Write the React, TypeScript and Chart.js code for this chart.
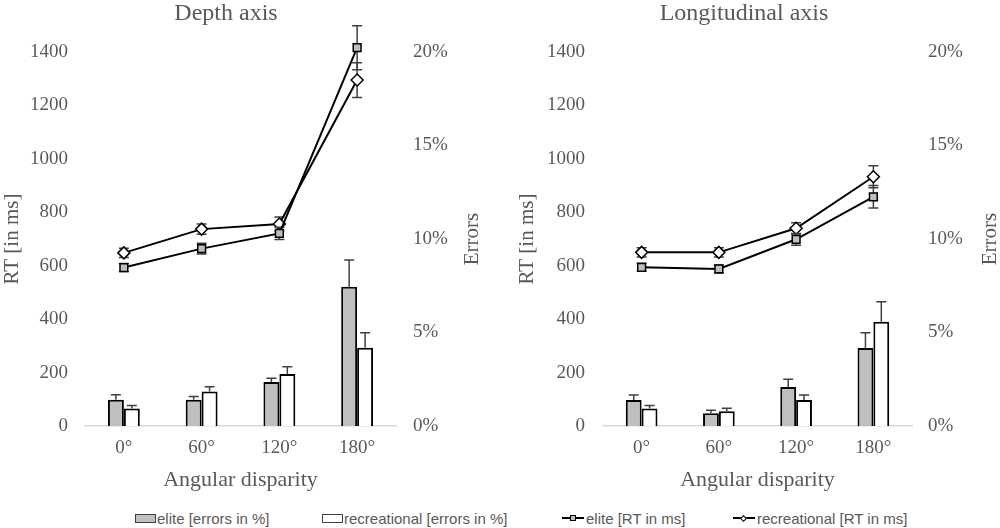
import { useEffect, useRef } from "react";
import { Chart, registerables } from "chart.js";

Chart.register(...registerables);

const serif = "'Liberation Serif', 'Times New Roman', serif";
const sans = "'Liberation Sans', Arial, sans-serif";
const textColor = "#595959";

const angles = ["0°", "60°", "120°", "180°"];

// Depth axis
const depthEliteErr = [1.4, 1.4, 2.35, 7.45];
const depthEliteErrSd = [0.27, 0.18, 0.21, 1.43];
const depthRecErr = [0.93, 1.85, 2.78, 4.19];
const depthRecErrSd = [0.17, 0.25, 0.39, 0.8];
const depthEliteRt = [593, 664, 721, 1416];
const depthEliteRtSd = [15, 20, 23, 82];
const depthRecRt = [648, 737, 756, 1295];
const depthRecRtSd = [17, 19, 26, 65];

// Longitudinal axis
const longEliteErr = [1.39, 0.68, 2.09, 4.17];
const longEliteErrSd = [0.27, 0.16, 0.41, 0.82];
const longRecErr = [0.93, 0.79, 1.39, 5.58];
const longRecErrSd = [0.17, 0.16, 0.27, 1.07];
const longEliteRt = [594, 588, 699, 858];
const longEliteRtSd = [15, 15, 22, 42];
const longRecRt = [650, 650, 740, 933];
const longRecRtSd = [17, 17, 21, 41];

type Panel = {
  title: string;
  titleX: number;
  errorsX: number;
  rtPad: number;
  leftW: number;
  rightW: number;
  rightPad: number;
  leftPad: number;
  eliteErr: number[];
  eliteErrSd: number[];
  recErr: number[];
  recErrSd: number[];
  eliteRt: number[];
  eliteRtSd: number[];
  recRt: number[];
  recRtSd: number[];
};

const depthPanel: Panel = {
  title: "Depth axis",
  titleX: 226,
  errorsX: 472,
  rtPad: 0,
  leftW: 85,
  rightW: 104,
  rightPad: 17,
  leftPad: 17,
  eliteErr: depthEliteErr,
  eliteErrSd: depthEliteErrSd,
  recErr: depthRecErr,
  recErrSd: depthRecErrSd,
  eliteRt: depthEliteRt,
  eliteRtSd: depthEliteRtSd,
  recRt: depthRecRt,
  recRtSd: depthRecRtSd,
};

const longPanel: Panel = {
  title: "Longitudinal axis",
  titleX: 244,
  errorsX: 490,
  rtPad: 15,
  leftW: 103,
  rightW: 88,
  rightPad: 16,
  leftPad: 18,
  eliteErr: longEliteErr,
  eliteErrSd: longEliteErrSd,
  recErr: longRecErr,
  recErrSd: longRecErrSd,
  eliteRt: longEliteRt,
  eliteRtSd: longEliteRtSd,
  recRt: longRecRt,
  recRtSd: longRecRtSd,
};

function drawErrors(chart: any, index: number) {
  const ds = chart.data.datasets[index];
  const errs: number[] | undefined = ds.errors;
  if (!errs) return;
  const meta = chart.getDatasetMeta(index);
  const scale = chart.scales[meta.yAxisID];
  const upOnly = meta.type === "bar";
  const ctx = chart.ctx;
  ctx.save();
  ctx.strokeStyle = "#404040";
  ctx.lineWidth = 1.5;
  meta.data.forEach((el: any, i: number) => {
    const v = ds.data[i];
    const x = el.x;
    const yTop = scale.getPixelForValue(v + errs[i]);
    const yBot = upOnly ? el.y : scale.getPixelForValue(v - errs[i]);
    ctx.beginPath();
    ctx.moveTo(x, yBot);
    ctx.lineTo(x, yTop);
    ctx.moveTo(x - 5, yTop);
    ctx.lineTo(x + 5, yTop);
    if (!upOnly) {
      ctx.moveTo(x - 5, yBot);
      ctx.lineTo(x + 5, yBot);
    }
    ctx.stroke();
  });
  ctx.restore();
}

// bars get their error bars on top, lines get them underneath the markers
const errorBarPlugin = {
  id: "errorBars",
  beforeDatasetDraw(chart: any, args: any) {
    if (chart.getDatasetMeta(args.index).type === "line") drawErrors(chart, args.index);
  },
  afterDatasetDraw(chart: any, args: any) {
    if (chart.getDatasetMeta(args.index).type === "bar") drawErrors(chart, args.index);
  },
};

const panelTextPlugin = {
  id: "panelText",
  afterDraw(chart: any, _args: any, opts: any) {
    const { ctx, chartArea } = chart;
    ctx.save();
    ctx.fillStyle = textColor;
    ctx.textAlign = "center";
    ctx.textBaseline = "middle";
    ctx.font = `24px ${serif}`;
    ctx.fillText(opts.title, opts.titleX, 14);
    ctx.translate(opts.errorsX, (chartArea.top + chartArea.bottom) / 2);
    ctx.rotate(-Math.PI / 2);
    ctx.font = `21px ${serif}`;
    ctx.fillText("Errors", 0, 0);
    ctx.restore();
  },
};

function makeConfig(p: Panel): any {
  const tickFont = { family: serif, size: 19 };
  return {
    type: "bar",
    data: {
      labels: angles,
      datasets: [
        {
          type: "line",
          label: "elite [RT in ms]",
          data: p.eliteRt,
          errors: p.eliteRtSd,
          yAxisID: "y",
          order: 0,
          borderColor: "#000",
          borderWidth: 2,
          tension: 0,
          clip: false,
          pointStyle: "rect",
          pointRadius: 5.5,
          pointBackgroundColor: "#bfbfbf",
          pointBorderColor: "#000",
          pointBorderWidth: 1.5,
        },
        {
          type: "line",
          label: "recreational [RT in ms]",
          data: p.recRt,
          errors: p.recRtSd,
          yAxisID: "y",
          order: 0,
          borderColor: "#000",
          borderWidth: 2,
          tension: 0,
          clip: false,
          pointStyle: "rectRot",
          pointRadius: 6,
          pointBackgroundColor: "#fff",
          pointBorderColor: "#000",
          pointBorderWidth: 1.5,
        },
        {
          type: "bar",
          label: "elite [errors in %]",
          data: p.eliteErr,
          errors: p.eliteErrSd,
          yAxisID: "y1",
          order: 1,
          backgroundColor: "#bfbfbf",
          borderColor: "#000",
          borderWidth: 2,
          barPercentage: 1,
          categoryPercentage: 0.41,
        },
        {
          type: "bar",
          label: "recreational [errors in %]",
          data: p.recErr,
          errors: p.recErrSd,
          yAxisID: "y1",
          order: 1,
          backgroundColor: "#fff",
          borderColor: "#000",
          borderWidth: 2,
          barPercentage: 1,
          categoryPercentage: 0.41,
        },
      ],
    },
    options: {
      responsive: false,
      animation: false,
      layout: { padding: { top: 52, left: 0, right: 0, bottom: 0 } },
      plugins: {
        legend: { display: false },
        tooltip: { enabled: false },
        panelText: { title: p.title, titleX: p.titleX, errorsX: p.errorsX },
      },
      scales: {
        x: {
          grid: { display: false, drawTicks: false },
          border: { display: true, color: "#d9d9d9", width: 1.5 },
          ticks: { padding: 11, color: textColor, font: tickFont },
          title: {
            display: true,
            text: "Angular disparity",
            color: textColor,
            font: { family: serif, size: 22 },
            padding: { top: 0, bottom: 7 },
          },
          afterFit: (s: any) => {
            s.height = 74;
          },
        },
        y: {
          position: "left",
          min: 0,
          max: 1400,
          grid: { display: false, drawTicks: false },
          border: { display: false },
          ticks: {
            stepSize: 200,
            padding: p.leftPad,
            color: textColor,
            font: tickFont,
            callback: (v: number) => String(v),
          },
          title: {
            display: true,
            text: "RT [in ms]",
            color: textColor,
            font: { family: serif, size: 21 },
            padding: { top: p.rtPad, bottom: 0 },
          },
          afterFit: (s: any) => {
            s.width = p.leftW;
          },
        },
        y1: {
          position: "right",
          min: 0,
          max: 20,
          grid: { display: false, drawTicks: false },
          border: { display: false },
          ticks: {
            stepSize: 5,
            padding: p.rightPad,
            color: textColor,
            font: tickFont,
            callback: (v: number) => v + "%",
          },
          afterFit: (s: any) => {
            s.width = p.rightW;
          },
        },
      },
    },
    plugins: [errorBarPlugin, panelTextPlugin],
  };
}

const PanelChart = ({ panel, left }: { panel: Panel; left: number }) => {
  const ref = useRef<HTMLCanvasElement>(null);

  useEffect(() => {
    if (!ref.current) return;
    const chart = new Chart(ref.current, makeConfig(panel));
    return () => chart.destroy();
  }, [panel]);

  return (
    <div style={{ position: "absolute", left, top: 0, width: 500, height: 500 }}>
      <canvas ref={ref} width={500} height={500} style={{ width: 500, height: 500 }} />
    </div>
  );
};

const legendItems = [
  { label: "elite [errors in %]", kind: "box", fill: "#bfbfbf", left: 135 },
  { label: "recreational [errors in %]", kind: "box", fill: "#fff", left: 322 },
  { label: "elite [RT in ms]", kind: "square", fill: "#bfbfbf", left: 562 },
  { label: "recreational [RT in ms]", kind: "diamond", fill: "#fff", left: 733 },
];

const LegendMarker = ({ kind, fill }: { kind: string; fill: string }) => {
  if (kind === "box") {
    return (
      <span
        style={{
          display: "inline-block",
          boxSizing: "border-box",
          width: 21,
          height: 9,
          background: fill,
          border: "1px solid #404040",
          marginRight: 1,
        }}
      />
    );
  }
  return (
    <span style={{ position: "relative", display: "inline-block", width: 22, height: 10, marginRight: 2 }}>
      <span style={{ position: "absolute", left: 0, top: 4, width: 22, height: 2, background: "#000" }} />
      <span
        style={{
          position: "absolute",
          left: kind === "diamond" ? 8 : 7.5,
          top: kind === "diamond" ? 2.5 : 2,
          width: kind === "diamond" ? 5 : 6,
          height: kind === "diamond" ? 5 : 6,
          boxSizing: "border-box",
          background: fill,
          border: "1px solid #000",
          transform: kind === "diamond" ? "rotate(45deg)" : undefined,
        }}
      />
    </span>
  );
};

const App = () => {
  return (
    <div style={{ position: "absolute", left: 0, top: 0, width: 1000, height: 528, background: "#fff" }}>
      <PanelChart panel={depthPanel} left={0} />
      <PanelChart panel={longPanel} left={500} />
      {legendItems.map((item) => (
        <div
          key={item.label}
          style={{
            position: "absolute",
            left: item.left,
            top: 509,
            height: 18,
            display: "flex",
            alignItems: "center",
            fontFamily: sans,
            fontSize: 15,
            color: textColor,
            whiteSpace: "nowrap",
          }}
        >
          <LegendMarker kind={item.kind} fill={item.fill} />
          {item.label}
        </div>
      ))}
    </div>
  );
};

export default App;
